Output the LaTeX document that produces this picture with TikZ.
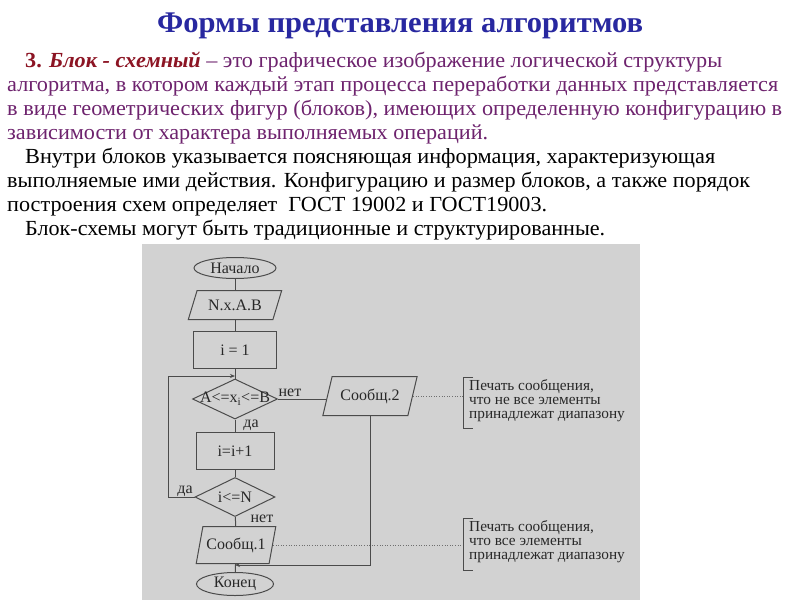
\documentclass[tikz,border=0pt]{standalone}
\usepackage{fontspec}
\setmainfont{Liberation Serif}
\usetikzlibrary{shapes.geometric,arrows.meta}
\definecolor{ttlblue}{RGB}{40,40,160}
\definecolor{txtpurple}{RGB}{110,35,110}
\definecolor{txtred}{RGB}{140,20,35}
\definecolor{bggray}{RGB}{210,210,210}
\definecolor{fcline}{RGB}{75,75,75}
\definecolor{fctext}{RGB}{40,40,40}
\newcommand{\fitline}[2]{\resizebox{#1}{\height}{#2}}
\begin{document}
\begin{tikzpicture}[x=1pt,y=-1pt,
  txt/.style={anchor=base west, inner sep=0pt, font=\fontsize{21.5}{24}\selectfont},
  fcfont/.style={font=\fontsize{16}{18}\selectfont, text=fctext},
  fc/.style={draw=fcline, line width=1pt, inner sep=0pt, fcfont},
  term/.style={fc, ellipse},
  proc/.style={fc, rectangle},
  io/.style={fc, trapezium, trapezium stretches=true},
  dec/.style={fc, diamond},
  conn/.style={draw=fcline, line width=1pt},
  arr/.style={conn, -{Stealth[length=5pt,width=4pt]}},
  dots/.style={draw=fcline!80, line width=0.6pt, dotted},
  brk/.style={draw=fcline, line width=0.8pt},
  lbl/.style={fcfont, inner sep=0pt},
  note/.style={font=\fontsize{15.3}{14}\selectfont, text=fctext, align=left, anchor=west, inner sep=0pt}
]
\useasboundingbox (0,0) rectangle (800,600);
\fill[white] (0,0) rectangle (800,600);

% title and text
\node[txt, font=\fontsize{30}{30}\selectfont\bfseries, text=ttlblue] (title) at (157,32)
  {\fitline{486pt}{Формы представления алгоритмов}};
\node[txt, text=txtpurple] (l1) at (25,67)
  {\fitline{697pt}{\textcolor{txtred}{\textbf{3. \textit{Блок - схемный}}} – это графическое изображение логической структуры}};
\node[txt, text=txtpurple] (l2) at (7,91)
  {\fitline{771pt}{алгоритма, в котором каждый этап процесса переработки данных представляется}};
\node[txt, text=txtpurple] (l3) at (7,115)
  {\fitline{775pt}{в виде геометрических фигур (блоков), имеющих определенную конфигурацию в}};
\node[txt, text=txtpurple] (l4) at (7,139)
  {\fitline{481pt}{зависимости от характера выполняемых операций.}};
\node[txt] (l5) at (25,163)
  {\fitline{690pt}{Внутри блоков указывается поясняющая информация, характеризующая}};
\node[txt] (l6) at (7,187)
  {\fitline{743pt}{выполняемые ими действия. Конфигурацию и размер блоков, а также порядок}};
\node[txt] (l7) at (7,211)
  {\fitline{540pt}{построения схем определяет\ \ ГОСТ 19002 и ГОСТ19003.}};
\node[txt] (l8) at (25,235)
  {\fitline{580pt}{Блок-схемы могут быть традиционные и структурированные.}};

% flowchart background
\fill[bggray] (142,244) rectangle (640,600);

% blocks
\node[term, minimum width=82pt, minimum height=21pt] (start) at (235,268) {Начало};
\node[io, trapezium left angle=60, trapezium right angle=120, minimum width=94pt, minimum height=29pt] (inp) at (235,305) {N.x.A.B};
\node[proc, minimum width=83pt, minimum height=37pt] (init) at (235,350) {i = 1};
\node[dec, minimum width=85pt, minimum height=40pt, label={[lbl]center:A<=x\textsubscript{i}<=B}] (d1) at (235,399) {};
\node[io, trapezium left angle=64, trapezium right angle=116, minimum width=95pt, minimum height=39pt] (o2) at (370,396) {Сообщ.2};
\node[proc, minimum width=78pt, minimum height=37pt] (inc) at (235,451) {i=i+1};
\node[dec, minimum width=80pt, minimum height=39pt, label={[lbl]center:i<=N}] (d2) at (235,497) {};
\node[io, trapezium left angle=68, trapezium right angle=112, minimum width=80pt, minimum height=37pt] (o1) at (236,545) {Сообщ.1};
\node[term, minimum width=77pt, minimum height=23pt] (end) at (235,584) {Конец};

\coordinate (j1) at (235,376);
\coordinate (j2) at (235,565);
\coordinate (lp) at (168,497);
\coordinate (b1) at (463,400);
\coordinate (b2) at (463,544);

% connectors
\draw[conn] (start) -- (inp);
\draw[conn] (inp) -- (init);
\draw[conn] (init) -- (d1);
\draw[conn] (d1) -- (inc);
\draw[conn] (inc) -- (d2);
\draw[conn] (d2) -- (o1);
\draw[conn] (o1) -- (end);
\draw[conn] (d1.east) -- (o2.west |- d1.east);
\draw[arr] (d2.west) -- (lp) |- (j1);
\draw[arr] (o2.south) |- (j2);

% labels
\node[lbl] (n1) at (290,393) {нет};
\node[lbl] (y1) at (251,425) {да};
\node[lbl] (y2) at (185,491) {да};
\node[lbl] (n2) at (262,519) {нет};

% notes
\draw[dots] (o2.east) -- (o2.east -| b1);
\draw[dots] (o1.east) -- (o1.east -| b2);
\draw[brk] (473,377) -- (463,377) -- (463,428) -- (473,428);
\draw[brk] (473,518) -- (463,518) -- (463,570) -- (473,570);
\node[note] (t1) at (469,401) {Печать сообщения,\\что не все элементы\\принадлежат диапазону};
\node[note] (t2) at (469,542) {Печать сообщения,\\что все элементы\\принадлежат диапазону};
\end{tikzpicture}
\end{document}
